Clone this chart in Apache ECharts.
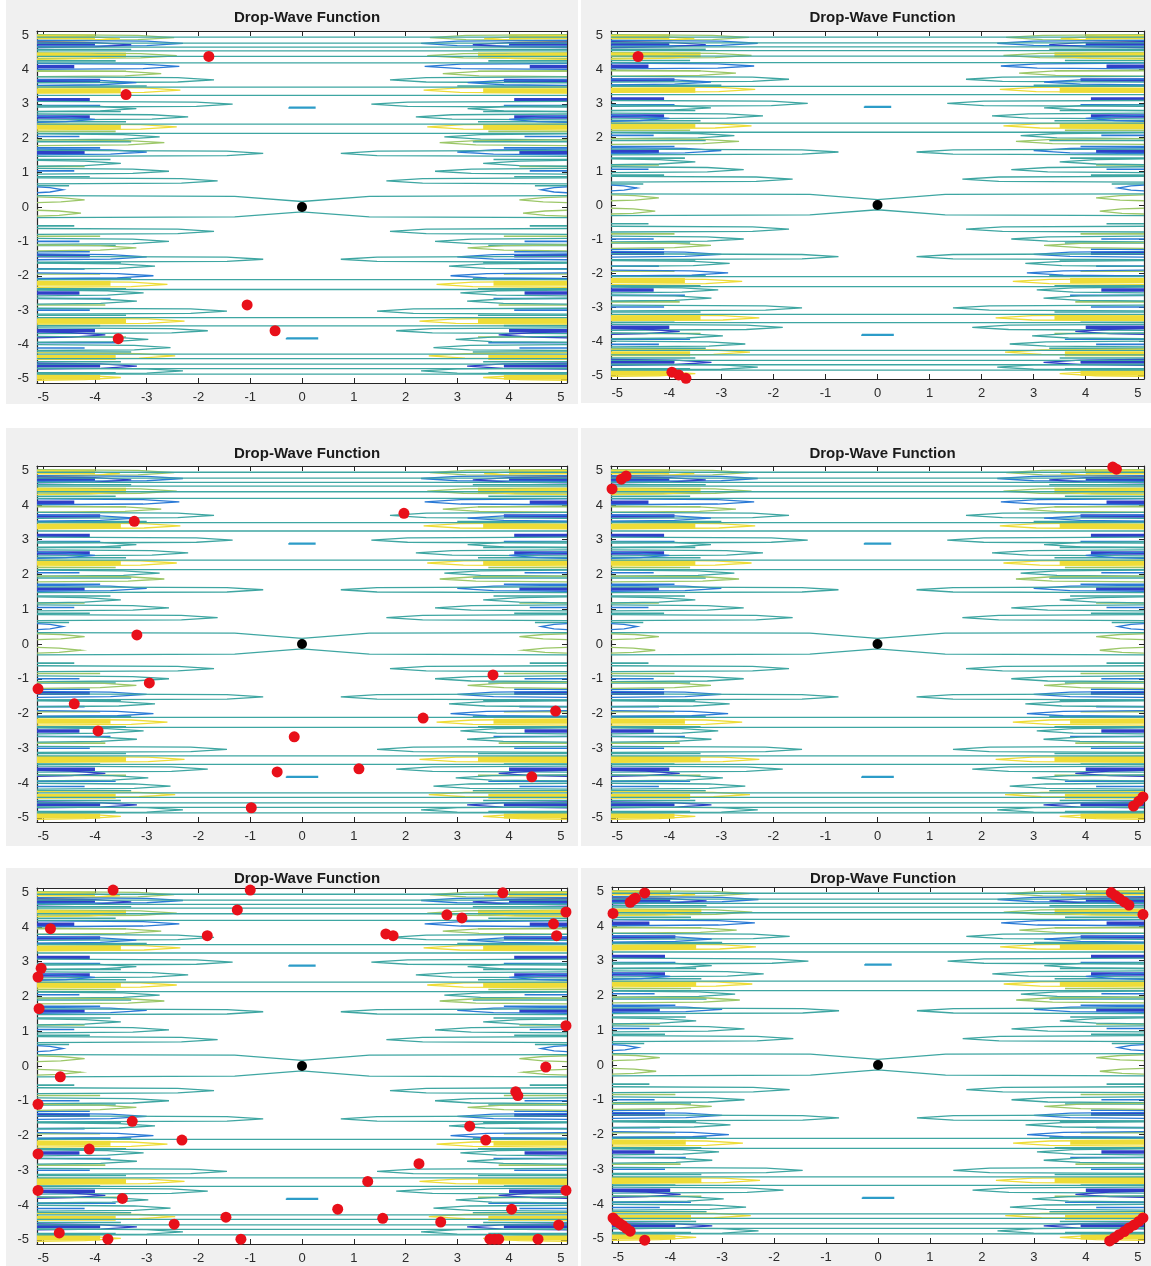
<!DOCTYPE html>
<html><head><meta charset="utf-8">
<script src="https://cdn.jsdelivr.net/npm/echarts@6/dist/echarts.min.js"></script>
<style>html,body{margin:0;padding:0;background:#fff}#c{width:1151px;height:1266px}</style>
</head><body><div id="c"></div>
<script>
// ---------------- data ----------------
const tickValues = [-5, -4, -3, -2, -1, 0, 1, 2, 3, 4, 5];
const panelTitle = 'Drop-Wave Function';

// contour lines that cross the whole plot (y level)
const fullLineY = [4.94, 4.77, 4.65, 4.54, 4.38, 4.19, 3.49, 3.25, 2.41, 2.14,
                   -2.11, -2.40, -3.22, -3.46, -4.28, -4.41, -4.57, -4.70, -4.86];
// the two lines pinching toward the optimum: y at the edges, y at x = 0
const pinchEdgeY = [0.33, -0.31];
const pinchCentreY = [0.16, -0.14];
// short closed contours around x = 0
const dashY = [2.89, -3.82];
const dashHalfLen = [0.25, 0.30];

// closed lobes entering from both side edges: centre y, |x| of the tip, colour level
const lobeY = [4.93, 4.90, 4.76, 4.72, 4.40, 4.38, 4.09, 3.88, 3.70, 3.62, 3.40, 2.99, 2.86, 2.62, 2.55,
               2.33, 2.04, 1.87, 1.60, 1.56, 1.27, 1.04, 0.76, 0.50, 0.21, -0.18, -0.71, -1.00, -1.19,
               -1.45, -1.52, -1.72, -2.00, -2.25, -2.50, -2.74, -3.03, -3.32, -3.60, -3.72, -3.85,
               -4.09, -4.33, -4.63, -4.77, -4.96];
const lobeTip = [2.47, 3.52, 2.30, 3.30, 2.42, 3.40, 2.37, 2.72, 1.70, 3.20, 2.35, 1.34, 3.20, 2.20, 4.00,
                 2.42, 2.75, 2.66, 3.00, 0.75, 3.50, 2.57, 1.63, 4.62, 4.20, 4.27, 1.70, 2.57, 3.20,
                 3.00, 0.75, 2.84, 2.87, 2.60, 3.06, 3.19, 1.45, 2.27, 1.82, 3.80, 2.97,
                 2.54, 2.45, 3.19, 2.30, 3.50];
const lobeLevel = ['green', 'yellow', 'blue', 'dblue', 'green', 'yellow', 'blue', 'green', 'teal', 'blue', 'yellow', 'teal', 'teal', 'teal', 'blue',
                   'yellow', 'teal', 'green', 'blue', 'teal', 'teal', 'teal', 'teal', 'blue', 'green', 'green', 'teal', 'teal', 'green',
                   'blue', 'teal', 'teal', 'blue', 'yellow', 'teal', 'teal', 'teal', 'yellow', 'teal', 'dblue', 'teal',
                   'teal', 'yellow', 'dblue', 'teal', 'yellow'];

// dense bundles of contours hugging the side edges: y, |x| reached, colour level
const bandY = [4.95, 4.42, 3.38, 2.34, -2.22, -3.32, -4.38, -4.95,
               4.74, 4.08, 3.68, 3.12, 2.62, 2.05, 1.58, 1.05, -1.0, -1.42, -1.8, -2.5, -3.0, -3.6, -4.1, -4.62,
               4.58, 4.25, 3.95, 3.52, 2.95, 2.78, 2.48, 2.2, 1.9, 1.72, 1.38, 1.18, 0.88, 0.62, -0.55, -0.85,
               -1.12, -1.3, -1.62, -1.95, -2.08, -2.38, -2.66, -2.85, -3.15, -3.45, -3.78, -3.95, -4.22, -4.5, -4.82];
const bandReach = [4.0, 3.4, 3.5, 3.5, 3.7, 3.4, 3.6, 3.9,
                   4.0, 4.4, 3.9, 4.1, 4.1, 4.3, 4.2, 4.4, 4.3, 4.1, 4.2, 4.3, 4.1, 4.0, 4.2, 3.9,
                   3.3, 3.6, 3.4, 3.0, 3.9, 3.5, 3.4, 3.6, 3.3, 3.9, 3.7, 4.2, 4.1, 4.5, 4.4, 3.9,
                   3.6, 4.1, 3.5, 3.9, 3.3, 3.4, 3.7, 3.8, 3.4, 3.9, 3.4, 3.6, 3.3, 3.5, 3.6];
const bandLevel = ['yellow', 'yellow', 'yellow', 'yellow', 'yellow', 'yellow', 'yellow', 'yellow',
                   'dblue', 'dblue', 'dblue', 'dblue', 'dblue', 'blue', 'dblue', 'blue', 'blue', 'dblue', 'blue', 'dblue', 'blue', 'dblue', 'blue', 'dblue',
                   'teal', 'teal', 'green', 'teal', 'blue', 'teal', 'teal', 'green', 'teal', 'blue', 'teal', 'green', 'teal', 'teal', 'teal', 'green',
                   'teal', 'blue', 'teal', 'green', 'teal', 'teal', 'blue', 'green', 'teal', 'teal', 'green', 'blue', 'teal', 'teal', 'teal'];

// optimum (black) and the search points (red) of each of the six runs
const optimum = [[0, 0]];
const run1 = [[-1.8, 4.38], [-3.4, 3.27], [-1.06, -2.85], [-0.52, -3.6], [-3.55, -3.83]];
const run2 = [[-4.6, 4.37], [-3.95, -4.92], [-3.82, -5.0], [-3.68, -5.1]];
const run3 = [[-3.24, 3.53], [1.97, 3.76], [-3.19, 0.26], [-2.95, -1.12], [-5.1, -1.29], [-4.4, -1.72],
              [-3.94, -2.5], [3.69, -0.89], [2.34, -2.13], [4.9, -1.93], [-0.15, -2.67], [-0.48, -3.68],
              [1.1, -3.59], [4.44, -3.82], [-0.98, -4.71]];
const run4 = [[-5.1, 4.46], [-4.92, 4.74], [-4.83, 4.83], [4.52, 5.09], [4.59, 5.03],
              [4.92, -4.66], [5.02, -4.52], [5.1, -4.4]];
const run5 = [[-3.65, 5.06], [-1.0, 5.06], [3.88, 4.98], [-1.25, 4.49], [5.1, 4.43], [-4.86, 3.95], [2.8, 4.35],
              [3.09, 4.26], [4.86, 4.09], [4.92, 3.75], [-1.83, 3.75], [1.62, 3.8], [1.76, 3.75], [-5.04, 2.81],
              [-5.1, 2.56], [-5.08, 1.65], [5.1, 1.16], [-4.67, -0.31], [4.71, -0.03], [-5.1, -1.1], [4.13, -0.74],
              [4.17, -0.85], [-3.28, -1.59], [3.24, -1.73], [3.55, -2.13], [-2.32, -2.13], [-5.1, -2.53],
              [-4.11, -2.39], [2.26, -2.81], [1.27, -3.32], [-5.1, -3.58], [5.1, -3.58], [-3.47, -3.81],
              [0.69, -4.12], [-1.47, -4.35], [1.56, -4.38], [2.68, -4.49], [4.05, -4.12], [-2.47, -4.55],
              [4.96, -4.57], [-4.69, -4.8], [-3.75, -4.98], [-1.18, -4.98], [3.63, -4.98], [3.72, -4.98],
              [3.8, -4.98], [4.56, -4.98]];
const run6 = [[-4.49, 4.95], [-4.77, 4.68], [-4.71, 4.76], [-4.67, 4.8], [-5.1, 4.36],
              [4.49, 4.96], [4.57, 4.87], [4.65, 4.78], [4.74, 4.69], [4.83, 4.6], [5.1, 4.33],
              [-5.1, -4.4], [-5.05, -4.48], [-4.98, -4.55], [-4.91, -4.62], [-4.84, -4.7], [-4.77, -4.78], [-4.49, -5.04],
              [4.46, -5.06], [4.55, -4.97], [4.64, -4.88], [4.74, -4.79], [4.83, -4.69], [4.93, -4.6], [5.02, -4.5], [5.1, -4.4]];
const runs = [run1, run2, run3, run4, run5, run6];

// ---------------- layout / style ----------------
const LIM = 5.12;
const levelColor = {dblue: '#3040c8', blue: '#2a7ad6', teal: '#3ea6a2', green: '#9cc768', yellow: '#eedc38'};
const grids = [
  {left: 37, top: 31, width: 530, height: 352},
  {left: 611, top: 31, width: 533, height: 348},
  {left: 37, top: 466, width: 530, height: 356},
  {left: 611, top: 466, width: 533, height: 356},
  {left: 37, top: 888, width: 530, height: 356},
  {left: 612, top: 887, width: 532, height: 356}
];
const titleTops = [5, 5, 441, 441, 866, 866];
const panelBg = [
  [6, 0, 572, 404], [581, 0, 570, 403],
  [6, 428, 572, 418], [581, 428, 570, 418],
  [6, 868, 572, 398], [581, 868, 570, 398]
];

function contourItems() {
  const items = [];
  const teal = levelColor.teal;
  // edge bundles first (underneath), then the lobes and lines on top
  [-1, 1].forEach(s => {
    bandY.forEach((y, i) => {
      const lvl = bandLevel[i];
      const w = lvl === 'yellow' ? 5 : (lvl === 'dblue' ? 3.5 : 1.6);
      items.push({coords: [[s * LIM, y], [s * bandReach[i], y]],
        lineStyle: {color: levelColor[lvl], width: w, opacity: 1}});
    });
  });
  [-1, 1].forEach(s => {
    lobeY.forEach((y, i) => {
      const t = lobeTip[i];
      const k = Math.min(t + 0.7, t + 0.5 * (LIM - t));
      const h = 0.085;
      items.push({coords: [[s * LIM, y + h], [s * k, y + h * 0.75], [s * t, y], [s * k, y - h * 0.75], [s * LIM, y - h]],
        lineStyle: {color: levelColor[lobeLevel[i]], width: 1.3, opacity: 1}});
    });
  });
  fullLineY.forEach(y => items.push({coords: [[-LIM, y], [LIM, y]], lineStyle: {color: teal, width: 1.3, opacity: 1}}));
  pinchEdgeY.forEach((y, i) => {
    const c = pinchCentreY[i];
    items.push({coords: [[-LIM, y], [-1.3, y - 0.02 * Math.sign(y)], [0, c], [1.3, y - 0.02 * Math.sign(y)], [LIM, y]],
      lineStyle: {color: teal, width: 1.3, opacity: 1}});
  });
  dashY.forEach((y, i) => {
    const h = dashHalfLen[i];
    items.push({coords: [[-h, y + 0.012], [h, y + 0.012], [h, y - 0.012], [-h, y - 0.012], [-h, y + 0.012]],
      lineStyle: {color: '#2c9cc8', width: 1.4, opacity: 1}});
  });
  return items;
}

const contour = contourItems();
const xAxes = [], yAxes = [], series = [], titles = [];
const labelStyle = {color: '#2b2b2b', fontSize: 13, margin: 8, fontFamily: 'Liberation Sans, Arial, sans-serif'};
grids.forEach((g, i) => {
  const axisBase = {
    type: 'value', min: -LIM, max: LIM, gridIndex: i,
    splitLine: {show: false},
    axisLine: {show: true, onZero: false, lineStyle: {color: '#262626', width: 1.2}},
    axisTick: {show: true, inside: true, length: 5, customValues: tickValues, lineStyle: {color: '#262626'}}
  };
  xAxes.push(Object.assign({}, axisBase, {position: 'bottom',
    axisLabel: Object.assign({show: true, customValues: tickValues}, labelStyle)}));
  xAxes.push(Object.assign({}, axisBase, {position: 'top', axisLabel: {show: false}}));
  yAxes.push(Object.assign({}, axisBase, {position: 'left',
    axisLabel: Object.assign({show: true, customValues: tickValues}, labelStyle)}));
  yAxes.push(Object.assign({}, axisBase, {position: 'right', axisLabel: {show: false}}));
  titles.push({
    text: panelTitle, left: g.left + g.width / 2, top: titleTops[i], textAlign: 'center',
    textStyle: {fontSize: 15, fontWeight: 'bold', color: '#1a1a1a', fontFamily: 'Liberation Sans, Arial, sans-serif'}
  });
  series.push({
    type: 'lines', coordinateSystem: 'cartesian2d', polyline: true,
    xAxisIndex: 2 * i, yAxisIndex: 2 * i, silent: true, animation: false,
    lineStyle: {opacity: 1},
    data: contour
  });
  series.push({
    type: 'scatter', xAxisIndex: 2 * i, yAxisIndex: 2 * i, symbolSize: 11, animation: false,
    itemStyle: {color: '#e8101a', opacity: 1}, data: runs[i], z: 5
  });
  series.push({
    type: 'scatter', xAxisIndex: 2 * i, yAxisIndex: 2 * i, symbolSize: 10, animation: false,
    itemStyle: {color: '#000', opacity: 1}, data: optimum, z: 6
  });
});

const chart = echarts.init(document.getElementById('c'), null, {renderer: 'canvas'});
chart.setOption({
  backgroundColor: '#ffffff',
  animation: false,
  graphic: panelBg.map(b => ({type: 'rect', shape: {x: b[0], y: b[1], width: b[2], height: b[3]},
    style: {fill: '#f0f0f0'}, z: -10, silent: true})),
  title: titles,
  grid: grids.map(g => Object.assign({show: true, backgroundColor: '#ffffff', borderWidth: 0}, g)),
  xAxis: xAxes,
  yAxis: yAxes,
  series: series
});
</script></body></html>
